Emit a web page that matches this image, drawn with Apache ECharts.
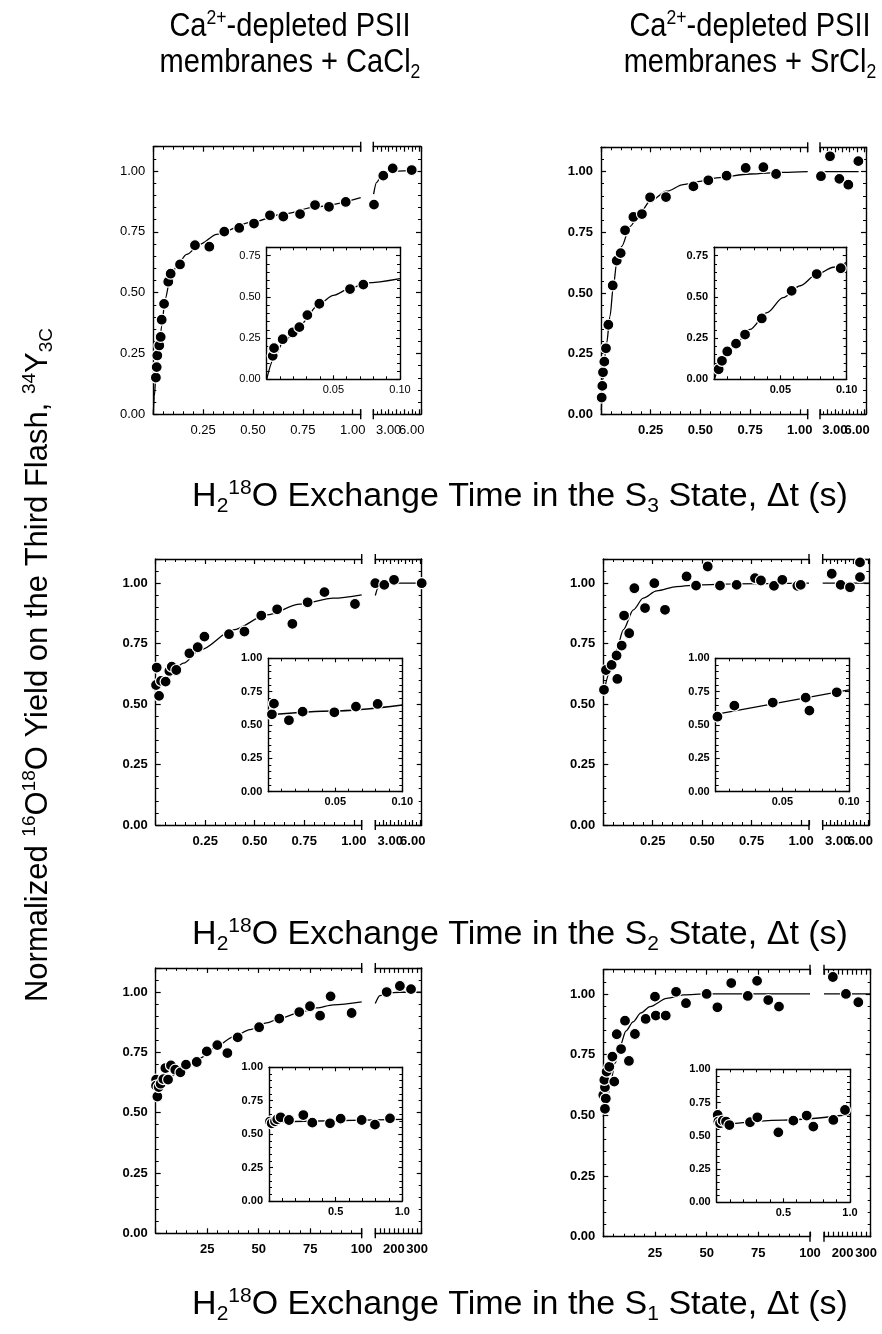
<!DOCTYPE html>
<html><head><meta charset="utf-8">
<script src="https://cdn.jsdelivr.net/npm/echarts@6.0.0/dist/echarts.min.js"></script>
<style>html,body{margin:0;padding:0;background:#fff}#c{width:882px;height:1334px}</style>
</head><body><div id="c"></div><script>
// ---------- DATA ----------
// S3 state, CaCl2 (top-left)
const s3CaMain = [[0.013,0.151],[0.017,0.194],[0.020,0.242],[0.030,0.283],[0.037,0.318],[0.042,0.389],[0.054,0.454],[0.075,0.545],[0.087,0.578],[0.134,0.616],[0.209,0.695],[0.281,0.689],[0.356,0.751],[0.431,0.766],[0.505,0.784],[0.585,0.818],[0.652,0.813],[0.736,0.823],[0.811,0.860],[0.881,0.853],[0.965,0.873]];
const s3CaLong = [[1.09,0.862],[2.30,0.981],[3.52,1.011],[5.99,1.004]];
const s3CaFit = [[0,0],[0.005,0.073],[0.013,0.155],[0.025,0.238],[0.042,0.362],[0.059,0.472],[0.084,0.554],[0.117,0.609],[0.167,0.657],[0.234,0.699],[0.318,0.740],[0.485,0.788],[0.652,0.823],[0.819,0.854],[1.04,0.891]];
const s3CaFitLong = [[1.04,0.905],[1.43,0.953],[2.08,0.983],[2.95,0.999],[5.99,1.003]];
const s3CaInset = [[0.0045,0.142],[0.0055,0.189],[0.012,0.243],[0.0195,0.284],[0.0245,0.316],[0.0305,0.389],[0.0395,0.458],[0.0625,0.547],[0.0725,0.574]];
const s3CaInsetFit = [[0,0],[0.005,0.118],[0.012,0.219],[0.025,0.330],[0.040,0.462],[0.050,0.509],[0.0625,0.551],[0.075,0.584],[0.1,0.610]];
// S3 state, SrCl2 (top-right)
const s3SrMain = [[0.0034,0.069],[0.0067,0.117],[0.010,0.173],[0.0168,0.217],[0.025,0.272],[0.037,0.369],[0.059,0.531],[0.079,0.633],[0.099,0.664],[0.121,0.758],[0.163,0.813],[0.206,0.825],[0.247,0.894],[0.327,0.895],[0.465,0.939],[0.540,0.964],[0.632,0.983],[0.728,1.015],[0.817,1.018],[0.881,0.990]];
const s3SrLong = [[1.13,0.981],[2.35,1.063],[3.61,0.970],[4.82,0.946],[6.17,1.043]];
const s3SrFit = [[0.0017,0.018],[0.0117,0.183],[0.0285,0.293],[0.045,0.403],[0.062,0.527],[0.079,0.623],[0.104,0.692],[0.146,0.774],[0.196,0.829],[0.247,0.878],[0.330,0.919],[0.414,0.946],[0.498,0.960],[0.582,0.974],[0.750,0.990],[0.918,0.997],[1.04,1.0]];
const s3SrFitLong = [[1.0,1.0],[6.2,1.0]];
const s3SrInset = [[0.0035,0.061],[0.006,0.112],[0.010,0.169],[0.0166,0.216],[0.0234,0.271],[0.036,0.369],[0.0585,0.536],[0.0774,0.638],[0.0955,0.673]];
const s3SrInsetFit = [[0.0005,0.006],[0.007,0.118],[0.017,0.220],[0.027,0.302],[0.040,0.404],[0.052,0.495],[0.065,0.567],[0.077,0.634],[0.090,0.679],[0.100,0.709]];
// S2 state, CaCl2 (middle-left)
const s2CaMain = [[0.005,0.651],[0.0017,0.579],[0.017,0.534],[0.027,0.596],[0.050,0.593],[0.069,0.637],[0.081,0.655],[0.104,0.641],[0.170,0.710],[0.212,0.735],[0.246,0.779],[0.370,0.789],[0.448,0.800],[0.533,0.866],[0.613,0.892],[0.690,0.832],[0.767,0.921],[0.852,0.963],[1.006,0.914]];
const s2CaLong = [[1.0,1.0],[2.20,0.993],[3.50,1.014],[7.2,1.0]];
const s2CaFit = [[0,0.568],[0.056,0.607],[0.14,0.669],[0.224,0.724],[0.392,0.807],[0.560,0.869],[0.729,0.913],[0.897,0.938],[1.04,0.952]];
const s2CaFitLong = [[1.0,0.949],[1.4,0.982],[2.07,0.996],[3.4,1.0],[7.2,1.0]];
const s2CaInset = [[0.0027,0.580],[0.0042,0.660],[0.0154,0.535],[0.0256,0.600],[0.0493,0.595],[0.0654,0.638],[0.0816,0.658]];
const s2CaInsetFit = [[0,0.575],[0.0485,0.605],[0.1,0.650]];
// S2 state, SrCl2 (middle-right)
const s2SrMain = [[0.0034,0.559],[0.0135,0.641],[0.042,0.662],[0.067,0.701],[0.071,0.604],[0.093,0.742],[0.105,0.866],[0.131,0.793],[0.157,0.979],[0.211,0.897],[0.258,1.000],[0.312,0.890],[0.421,1.028],[0.469,0.990],[0.528,1.069],[0.590,0.990],[0.674,0.993],[0.767,1.021],[0.797,1.011],[0.863,0.989],[0.905,1.014],[0.981,0.989],[0.998,0.993]];
const s2SrLong = [[2.20,1.039],[3.39,0.993],[4.63,0.983],[5.96,1.025],[5.96,1.086]];
const s2SrFit = [[0.0034,0.552],[0.034,0.634],[0.067,0.724],[0.101,0.807],[0.152,0.890],[0.202,0.938],[0.270,0.968],[0.371,0.986],[0.489,0.993],[0.657,0.997],[1.04,1.0]];
const s2SrFitLong = [[1.0,1.0],[7.2,1.0]];
const s2SrInset = [[0.0013,0.5625],[0.014,0.645],[0.0428,0.668],[0.0675,0.705],[0.0703,0.608],[0.0908,0.745]];
const s2SrInsetFit = [[0,0.58],[0.1,0.7625]];
// S1 state, CaCl2 (bottom-left)
const s1CaMain = [[0.2,0.637],[0.16,0.612],[0.81,0.567],[1.46,0.606],[2.4,0.620],[3.7,0.639],[4.7,0.685],[6.0,0.637],[7.4,0.696],[9.5,0.678],[12.0,0.667],[14.7,0.699],[19.9,0.710],[24.8,0.754],[29.9,0.780],[34.8,0.747],[39.8,0.812],[50.2,0.854],[60.0,0.890],[69.7,0.917],[74.9,0.941],[79.8,0.902],[84.9,0.982],[95.1,0.913]];
const s1CaLong = [[169,1.000],[226,1.025],[274,1.012]];
const s1CaFit = [[0,0.602],[5.3,0.637],[13.4,0.685],[21.5,0.726],[29.6,0.775],[37.7,0.814],[45.8,0.844],[53.9,0.872],[60.0,0.890],[69.7,0.915],[78.1,0.934],[86.2,0.947],[100,0.959]];
const s1CaFitLong = [[120,0.952],[140,0.985],[169,0.996],[227,0.999],[320,1.0]];
const s1CaInset = [[0.0075,0.594],[0.02,0.581],[0.045,0.596],[0.062,0.611],[0.0875,0.626],[0.15,0.606],[0.2575,0.643],[0.325,0.586],[0.4575,0.581],[0.5375,0.616],[0.695,0.606],[0.795,0.571],[0.9075,0.618]];
const s1CaInsetFit = [[0,0.591],[1,0.611]];
// S1 state, SrCl2 (bottom-right)
const s1SrMain = [[0,0.584],[0.8,0.616],[0.5,0.646],[1.6,0.680],[1.2,0.569],[0.8,0.527],[2.9,0.700],[4.4,0.742],[5.3,0.639],[6.5,0.834],[8.6,0.773],[10.5,0.890],[12.4,0.724],[15.3,0.835],[20.5,0.897],[25.4,0.911],[30.2,0.911],[25.0,0.989],[35.2,1.009],[40.0,0.962],[50.0,1.000],[55.2,0.945],[61.9,1.045],[69.9,0.992],[74.4,1.054],[79.8,0.975],[85.0,0.948]];
const s1SrLong = [[158,1.07],[214,1.000],[267,0.966]];
const s1SrFit = [[0,0.493],[1.8,0.563],[3.7,0.645],[5.7,0.715],[8.1,0.786],[11.0,0.848],[14.4,0.885],[18.2,0.922],[22.6,0.948],[30.7,0.982],[38.7,0.996],[50,1.0],[100,1.0]];
const s1SrFitLong = [[120,1.0],[320,1.0]];
const s1SrInset = [[0.0075,0.657],[0.0125,0.607],[0.025,0.594],[0.045,0.614],[0.07,0.607],[0.095,0.581],[0.25,0.602],[0.305,0.639],[0.4625,0.526],[0.575,0.614],[0.675,0.652],[0.725,0.569],[0.875,0.619],[0.9625,0.694]];
const s1SrInsetFit = [[0,0.578],[0.5,0.618],[1,0.66]];

// tick labels shown on the compressed (after-break) segments
const shortBreakLabels = [3, 6];
const longBreakLabels = [200, 300];

// text
const colTitles = [["Ca{sup|2+}-depleted PSII", "membranes + CaCl{sub|2}"], ["Ca{sup|2+}-depleted PSII", "membranes + SrCl{sub|2}"]];
const xTitles = ["H{sub|2}{sup|18}O Exchange Time in the S{sub|3} State, \u0394t (s)",
                 "H{sub|2}{sup|18}O Exchange Time in the S{sub|2} State, \u0394t (s)",
                 "H{sub|2}{sup|18}O Exchange Time in the S{sub|1} State, \u0394t (s)"];
const yTitle = "Normalized {sup|16}O{sup|18}O Yield on the Third Flash, {sup|34}Y{sub|3C}";

// ---------- LAYOUT ----------
const FONT = '"Liberation Sans", Arial, Helvetica, sans-serif';
const kinds = {
  short: {aMax:1.04, aInt:0.25, aDec:2, bMin:1, bMax:7.2, bInt:1, bMinor:2, bLabels:shortBreakLabels, bDec:2, iMax:0.1, iInt:0.05, iDec:2},
  long:  {aMax:100, aInt:25, aDec:0, bMin:120, bMax:320, bInt:20, bMinor:1, bLabels:longBreakLabels, bDec:0, iMax:1, iInt:0.5, iDec:1}
};
const layout = {
  TL: {a:[153.3,360.7], b:[373.3,421], top:146.7, bottom:414.3, ix:[266.7,400], iy:[247.3,379.3]},
  TR: {a:[601,807.7], b:[820,866], top:147.3, bottom:414.3, ix:[714,846.7], iy:[247.3,379.3]},
  ML: {a:[155.7,361.7], b:[375.3,421.7], top:559, bottom:825, ix:[268.3,402.3], iy:[658.3,791.7]},
  MR: {a:[603.3,809], b:[822.7,869.3], top:559, bottom:825, ix:[715.7,849], iy:[658.3,791.7]},
  BL: {a:[155.7,361.7], b:[375.3,421.7], top:967.9, bottom:1233.3, ix:[269,402.3], iy:[1067.3,1201]},
  BR: {a:[603.3,810], b:[824,870.7], top:969.7, bottom:1236.7, ix:[716.7,850], iy:[1069.3,1202.3]}
};
const panels = [
  {key:'TL', kind:'short', bold:false, insetMaxY:0.8, main:s3CaMain, long:s3CaLong, fit:s3CaFit, fitLong:s3CaFitLong, inset:s3CaInset, insetFit:s3CaInsetFit},
  {key:'TR', kind:'short', bold:true, insetMaxY:0.8, main:s3SrMain, long:s3SrLong, fit:s3SrFit, fitLong:s3SrFitLong, inset:s3SrInset, insetFit:s3SrInsetFit},
  {key:'ML', kind:'short', bold:true, insetMaxY:1.0, main:s2CaMain, long:s2CaLong, fit:s2CaFit, fitLong:s2CaFitLong, inset:s2CaInset, insetFit:s2CaInsetFit},
  {key:'MR', kind:'short', bold:true, insetMaxY:1.0, main:s2SrMain, long:s2SrLong, fit:s2SrFit, fitLong:s2SrFitLong, inset:s2SrInset, insetFit:s2SrInsetFit},
  {key:'BL', kind:'long', bold:true, insetMaxY:1.0, main:s1CaMain, long:s1CaLong, fit:s1CaFit, fitLong:s1CaFitLong, inset:s1CaInset, insetFit:s1CaInsetFit},
  {key:'BR', kind:'long', bold:true, insetMaxY:1.0, main:s1SrMain, long:s1SrLong, fit:s1SrFit, fitLong:s1SrFitLong, inset:s1SrInset, insetFit:s1SrInsetFit}
];

// ---------- BUILD ----------
function near(a, b) { return Math.abs(a - b) < 1e-6; }
function fmtStep(step, dec, hideZero) {
  return v => {
    if (hideZero && near(v, 0)) return '';
    const k = v / step;
    if (Math.abs(k - Math.round(k)) > 1e-6) return '';
    return v.toFixed(dec);
  };
}
function fmtList(list, dec) { return v => list.some(s => near(s, v)) ? v.toFixed(dec) : ''; }
function label(fn, size, weight, margin) {
  return {show:true, formatter:fn, fontSize:size, fontWeight:weight, color:'#000', fontFamily:FONT, margin:margin};
}
function axis(extra) {
  return Object.assign({
    type:'value', scale:false,
    axisLine:{show:true, onZero:false, lineStyle:{color:'#000', width:1.4}},
    axisTick:{show:true, inside:true, length:5, lineStyle:{color:'#000', width:1.2}},
    minorTick:{show:false},
    splitLine:{show:false}, minorSplitLine:{show:false},
    axisLabel:{show:false}
  }, extra);
}
function minor(n, len) { return {show:n > 1, splitNumber:n, length:len || 3, lineStyle:{color:'#000', width:1}}; }
function dotS(xi, yi, data, size) {
  return {type:'scatter', xAxisIndex:xi, yAxisIndex:yi, data:data, symbol:'circle', symbolSize:size || 11, clip:false, silent:true, z:4,
          itemStyle:{color:'#000', borderColor:'#fff', borderWidth:1.2, opacity:1}};
}
function fitS(xi, yi, data) {
  return {type:'line', xAxisIndex:xi, yAxisIndex:yi, data:data, symbol:'none', showSymbol:false, smooth:0.3, smoothMonotone:'x',
          clip:true, silent:true, z:3, lineStyle:{color:'#000', width:1.3}};
}

const option = {animation:false, backgroundColor:'#fff', textStyle:{fontFamily:FONT}, grid:[], xAxis:[], yAxis:[], series:[], graphic:{elements:[]}};
const G = option.graphic.elements;
const MAIN_FS = 13, INSET_FS = 11;

panels.forEach(p => {
  const lay = layout[p.key], k = kinds[p.kind];
  const fw = p.bold ? 'bold' : 'normal';
  const H = lay.bottom - lay.top;
  const g0 = option.grid.length, x0 = option.xAxis.length, y0 = option.yAxis.length;
  const insetTick = {show:true, inside:true, length:4, lineStyle:{color:'#000', width:1.1}};
  option.grid.push({left:lay.a[0], top:lay.top, width:lay.a[1]-lay.a[0], height:H, containLabel:false});
  option.grid.push({left:lay.b[0], top:lay.top, width:lay.b[1]-lay.b[0], height:H, containLabel:false});
  option.grid.push({left:lay.ix[0], top:lay.iy[0], width:lay.ix[1]-lay.ix[0], height:lay.iy[1]-lay.iy[0], containLabel:false});
  // before-break segment
  option.xAxis.push(axis({gridIndex:g0, position:'bottom', min:0, max:k.aMax, interval:k.aInt, minorTick:minor(5), axisLabel:label(fmtStep(k.aInt, k.aDec, true), MAIN_FS, fw, 10)}));
  option.xAxis.push(axis({gridIndex:g0, position:'top', min:0, max:k.aMax, interval:k.aInt, minorTick:minor(5)}));
  option.yAxis.push(axis({gridIndex:g0, position:'left', min:0, max:1.1, interval:0.25, minorTick:minor(5), axisLabel:label(fmtStep(0.25, 2, false), MAIN_FS, fw, 8)}));
  // after-break segment
  option.xAxis.push(axis({gridIndex:g0+1, position:'bottom', min:k.bMin, max:k.bMax, interval:k.bInt, minorTick:minor(k.bMinor), axisLabel:label(fmtList(k.bLabels, k.bDec), MAIN_FS, fw, 10)}));
  option.xAxis.push(axis({gridIndex:g0+1, position:'top', min:k.bMin, max:k.bMax, interval:k.bInt, minorTick:minor(k.bMinor)}));
  option.yAxis.push(axis({gridIndex:g0+1, position:'right', min:0, max:1.1, interval:0.25, minorTick:minor(5)}));
  // inset
  option.xAxis.push(axis({gridIndex:g0+2, position:'bottom', min:0, max:k.iMax, interval:k.iInt, minorTick:minor(5), axisTick:insetTick, axisLabel:label(fmtStep(k.iInt, k.iDec, true), INSET_FS, fw, 5)}));
  option.xAxis.push(axis({gridIndex:g0+2, position:'top', min:0, max:k.iMax, interval:k.iInt, minorTick:minor(5), axisTick:insetTick}));
  option.yAxis.push(axis({gridIndex:g0+2, position:'left', min:0, max:p.insetMaxY, interval:0.25, minorTick:minor(5), axisTick:insetTick, axisLabel:label(fmtStep(0.25, 2, false), INSET_FS, fw, 6)}));
  option.yAxis.push(axis({gridIndex:g0+2, position:'right', min:0, max:p.insetMaxY, interval:0.25, minorTick:minor(5), axisTick:insetTick}));
  // series
  option.series.push(fitS(x0, y0, p.fit), dotS(x0, y0, p.main));
  option.series.push(fitS(x0+2, y0+1, p.fitLong), dotS(x0+2, y0+1, p.long));
  option.series.push(fitS(x0+4, y0+2, p.insetFit), dotS(x0+4, y0+2, p.inset));
  // break marks on the axis ends either side of the gap
  [lay.a[1], lay.b[0]].forEach(x => [lay.top, lay.bottom].forEach(y => {
    G.push({type:'line', silent:true, z:10, shape:{x1:x, y1:y-5, x2:x, y2:y+5}, style:{stroke:'#000', lineWidth:1.4}});
  }));
});

function richFor(F) {
  const s = Math.round(F * 0.62);
  return {
    sup:{fontSize:s, lineHeight:s, verticalAlign:'top', fontFamily:FONT, fill:'#000'},
    sub:{fontSize:s, lineHeight:s, verticalAlign:'bottom', fontFamily:FONT, fill:'#000'}
  };
}
function textEl(txt, x, y, F, opts) {
  return Object.assign({type:'text', x:x, y:y, silent:true, z:10,
    style:{text:txt, fontSize:F, fontFamily:FONT, fill:'#000', lineHeight:Math.round(F*1.15),
           align:'center', textAlign:'center', verticalAlign:'middle', textVerticalAlign:'middle', rich:richFor(F)}}, opts || {});
}
const colCenters = [290, 750];
colTitles.forEach((lines, i) => {
  G.push(textEl(lines[0], colCenters[i], 27, 33, {scaleX:0.88}));
  G.push(textEl(lines[1], colCenters[i], 63, 33, {scaleX:0.88}));
});
const xTitleY = [497, 935, 1305];
xTitles.forEach((t, i) => G.push(textEl(t, 520, xTitleY[i], 34)));
G.push(textEl(yTitle, 38, 665, 31, {rotation:Math.PI/2}));

const chart = echarts.init(document.getElementById('c'), null, {renderer:'canvas'});
chart.setOption(option);
</script></body></html>
